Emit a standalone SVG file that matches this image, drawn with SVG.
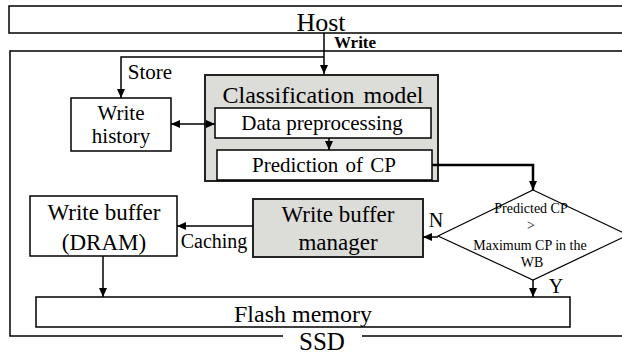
<svg xmlns="http://www.w3.org/2000/svg" width="622" height="356" viewBox="0 0 622 356">
<defs>
<marker id="ah" markerWidth="9" markerHeight="8" refX="9" refY="4" orient="auto" markerUnits="userSpaceOnUse"><path d="M0,0 L9,4 L0,8 Z" fill="#000"/></marker>
<marker id="ahs" markerWidth="9" markerHeight="8" refX="0" refY="4" orient="auto" markerUnits="userSpaceOnUse"><path d="M9,0 L0,4 L9,8 Z" fill="#000"/></marker>
<style>
text{font-family:"Liberation Serif","Times New Roman",serif;fill:#000;text-anchor:middle}
.box{fill:#fff;stroke:#000;stroke-width:1.5}
.gbox{fill:#dcdcd8;stroke:#222;stroke-width:2}
.line{fill:none;stroke:#000;stroke-width:1.5}
</style>
</defs>
<g id="host">
<rect x="9" y="6" width="625" height="27" class="box"/>
<text x="321" y="31" font-size="26">Host</text>
</g>
<g id="ssd">
<path d="M634 51 H10 V336 H283 M362 336 H634" class="line"/>
<text x="322" y="350" font-size="25">SSD</text>
</g>
<g id="write-history">
<rect x="71" y="98" width="100" height="53" class="box"/>
<text x="121" y="120" font-size="21">Write</text>
<text x="121" y="143" font-size="21">history</text>
</g>
<g id="classification-model">
<rect x="205" y="75" width="233" height="106" class="gbox"/>
<text x="323" y="103" font-size="24" word-spacing="3">Classification model</text>
</g>
<g id="data-preprocessing">
<rect x="215" y="108" width="216" height="30" class="box"/>
<text x="322" y="130" font-size="21">Data preprocessing</text>
</g>
<g id="prediction">
<rect x="217" y="150" width="215" height="30" class="box"/>
<text x="324" y="172" font-size="21" word-spacing="2">Prediction of CP</text>
</g>
<g id="decision">
<path d="M533 190 L628 235 L533 280 L438 236 Z" fill="#fff" stroke="#000" stroke-width="1.2"/>
<text x="531" y="213" font-size="14">Predicted CP</text>
<text x="531" y="230" font-size="14">&gt;</text>
<text x="530" y="250" font-size="14">Maximum CP in the</text>
<text x="532" y="267" font-size="14">WB</text>
</g>
<g id="write-buffer-manager">
<rect x="253" y="199" width="170" height="58" class="gbox"/>
<text x="338" y="222" font-size="23">Write buffer</text>
<text x="338" y="250" font-size="23">manager</text>
</g>
<g id="write-buffer">
<rect x="30" y="196" width="147" height="60" class="box"/>
<text x="104" y="220" font-size="23">Write buffer</text>
<text x="104" y="250" font-size="23">(DRAM)</text>
</g>
<g id="flash-memory">
<rect x="36" y="297" width="534" height="30" class="box"/>
<text x="303" y="322" font-size="24">Flash memory</text>
</g>
<g id="connectors">
<line x1="324" y1="33" x2="324" y2="74" class="line" marker-end="url(#ah)"/>
<text x="355" y="48" font-size="17" font-weight="bold">Write</text>
<path d="M324 57 H121 V98" class="line" marker-end="url(#ah)"/>
<text x="150" y="79" font-size="21">Store</text>
<line x1="171" y1="124" x2="215" y2="124" class="line" marker-start="url(#ahs)" marker-end="url(#ah)"/>
<line x1="329" y1="138" x2="329" y2="150" class="line" marker-end="url(#ah)"/>
<path d="M432 165 H533 V190" fill="none" stroke="#000" stroke-width="2.5" marker-end="url(#ah)"/>
<line x1="438" y1="237" x2="423" y2="237" class="line" marker-end="url(#ah)"/>
<text x="436" y="227" font-size="20">N</text>
<line x1="253" y1="226" x2="177" y2="226" class="line" marker-end="url(#ah)"/>
<text x="214" y="248" font-size="20">Caching</text>
<line x1="103" y1="256" x2="103" y2="297" class="line" marker-end="url(#ah)"/>
<line x1="533" y1="280" x2="533" y2="297" class="line" marker-end="url(#ah)"/>
<text x="556" y="293" font-size="20">Y</text>
</g>
</svg>
